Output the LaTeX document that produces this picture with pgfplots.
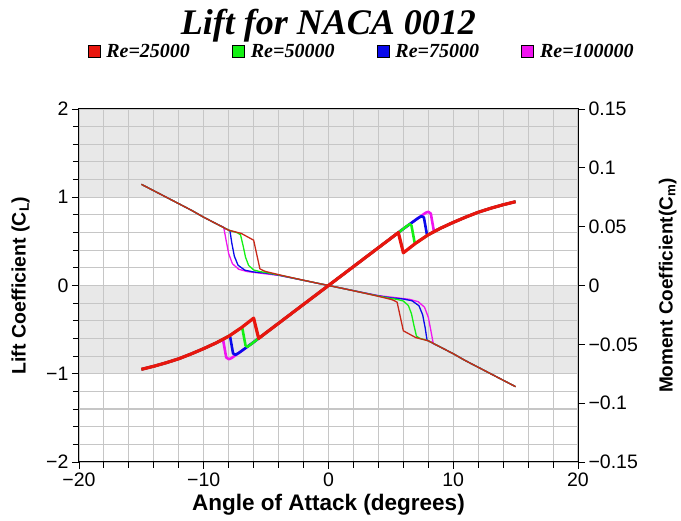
\documentclass[border=0pt]{standalone}
\usepackage{fontspec}
\setmainfont{Liberation Sans}
\newfontfamily\serifbi{Liberation Serif}
\usepackage{pgfplots}
\pgfplotsset{compat=1.18}
\definecolor{cRed}{RGB}{232,22,14}
\definecolor{cGreen}{RGB}{20,240,20}
\definecolor{cBlue}{RGB}{10,10,235}
\definecolor{cMag}{RGB}{240,20,240}
\definecolor{cMred}{RGB}{200,40,25}
\definecolor{band}{RGB}{232,232,232}
\definecolor{gridc}{RGB}{198,198,198}
\pgfplotsset{
  base/.style={width=499pt, height=353pt, scale only axis, xmin=-20, xmax=20,
    clip=true},
}
\begin{document}
\begin{tikzpicture}
\path[use as bounding box] (-79pt,-59pt) rectangle (602pt,462pt);
% ---------- background lift axis: grid, bands, left and bottom ticks
\begin{axis}[base, ymin=-2, ymax=2,
  axis on top,
  xtick={-20,-10,0,10,20}, xticklabels={−20,−10,0,10,20},
  minor xtick={-18,-16,-14,-12,-8,-6,-4,-2,2,4,6,8,12,14,16,18},
  ytick={-2,-1,0,1,2}, yticklabels={−2,−1,0,1,2},
  minor ytick={-1.8,-1.6,-1.4,-1.2,-0.8,-0.6,-0.4,-0.2,0.2,0.4,0.6,0.8,1.2,1.4,1.6,1.8},
  xtick pos=bottom, ytick pos=left,
  tick align=outside,
  major tick length=7pt, minor tick length=6pt,
  tick style={black, line width=0.9pt},
  grid=both,
  major grid style={gridc, line width=1.1pt},
  minor grid style={gridc, line width=1.1pt},
  axis line style={black, line width=1pt},
  ticklabel style={font=\fontsize{19.5}{19.5}\selectfont},
  xlabel={Angle of Attack (degrees)},
  ylabel={Lift Coefficient (C\textsubscript{L})},
  xlabel style={at={(axis description cs:0.5,-0.122)}, anchor=center,
    font=\bfseries\fontsize{22.5}{22.5}\selectfont},
  ylabel style={at={(axis description cs:-0.117,0.5)}, anchor=center,
    font=\bfseries\fontsize{19.5}{19.5}\selectfont},
  title={Lift for NACA 0012},
  title style={at={(axis description cs:0.5,1.195)}, anchor=base,
    inner sep=0pt, text depth=0pt,
    font=\serifbi\bfseries\itshape\fontsize{36}{36}\selectfont},
]
\addplot[fill=band, draw=none] coordinates {(-20,1) (20,1) (20,2) (-20,2)} -- cycle;
\addplot[fill=band, draw=none] coordinates {(-20,-1) (20,-1) (20,0) (-20,0)} -- cycle;
\end{axis}
% ---------- moment axis (right)
\begin{axis}[base, ymin=-0.15, ymax=0.15,
  axis x line=none, axis y line*=right,
  ytick={-0.15,-0.1,-0.05,0,0.05,0.1,0.15},
  yticklabels={−0.15,−0.1,−0.05,0,0.05,0.1,0.15},
  tick align=outside, major tick length=7pt,
  tick style={black, line width=0.9pt},
  axis line style={black, line width=1pt},
  ticklabel style={font=\fontsize{19.5}{19.5}\selectfont},
  ylabel={Moment Coefficient(C\textsubscript{m})},
  ylabel style={at={(axis description cs:1.18,0.5)}, anchor=center,
    font=\bfseries\fontsize{19}{19}\selectfont},
]
% Re = 100000
\addplot[cMag, line width=1.3pt] coordinates {
(-15,0.086) (-14,0.0805) (-13,0.075) (-12,0.0695) (-11,0.064) (-10,0.058) (-9,0.0525)
(-8.4,0.0495) (-8.2,0.038) (-8.0,0.027) (-7.7,0.0185) (-7.2,0.0138) (-6.5,0.0118)
(-5.5,0.0105) (-4,0.0086) (-3,0.0065) (-2,0.0043) (-1,0.0021) (0,0)
(1,-0.0021) (2,-0.0043) (3,-0.0065) (4,-0.0086) (5.5,-0.0105) (6.5,-0.0118)
(7.2,-0.0138) (7.7,-0.0185) (8.0,-0.027) (8.2,-0.038) (8.4,-0.0495)
(9,-0.0525) (10,-0.058) (11,-0.064) (12,-0.0695) (13,-0.075) (14,-0.0805) (15,-0.086)};
% Re = 75000
\addplot[cBlue, line width=1.3pt] coordinates {
(-15,0.086) (-14,0.0805) (-13,0.075) (-12,0.0695) (-11,0.064) (-10,0.058) (-9,0.0525)
(-8,0.047) (-7.9,0.0465) (-7.75,0.036) (-7.55,0.025) (-7.25,0.0172) (-6.7,0.0130)
(-6,0.0115) (-5,0.0105) (-4,0.0088) (-3,0.0066) (-2,0.0044) (-1,0.0022) (0,0)
(1,-0.0022) (2,-0.0044) (3,-0.0066) (4,-0.0088) (5,-0.0105) (6,-0.0115)
(6.7,-0.0130) (7.25,-0.0172) (7.55,-0.025) (7.75,-0.036) (7.9,-0.0465) (8,-0.047)
(9,-0.0525) (10,-0.058) (11,-0.064) (12,-0.0695) (13,-0.075) (14,-0.0805) (15,-0.086)};
% Re = 50000
\addplot[cGreen, line width=1.3pt] coordinates {
(-15,0.086) (-14,0.0805) (-13,0.075) (-12,0.0695) (-11,0.064) (-10,0.058) (-9,0.0525)
(-8,0.047) (-7.3,0.0448) (-7.05,0.043) (-6.85,0.034) (-6.65,0.024) (-6.4,0.0170)
(-6,0.0132) (-5.5,0.0118) (-5,0.0110) (-4,0.0090) (-3,0.0067) (-2,0.0044) (-1,0.0022) (0,0)
(1,-0.0022) (2,-0.0044) (3,-0.0067) (4,-0.0090) (5,-0.0110) (5.5,-0.0118) (6,-0.0132)
(6.4,-0.0170) (6.65,-0.024) (6.85,-0.034) (7.05,-0.043) (7.3,-0.0448) (8,-0.047)
(9,-0.0525) (10,-0.058) (11,-0.064) (12,-0.0695) (13,-0.075) (14,-0.0805) (15,-0.086)};
% Re = 25000
\addplot[cMred, line width=1.3pt] coordinates {
(-15,0.086) (-14,0.0805) (-13,0.075) (-12,0.0695) (-11,0.064) (-10,0.058) (-9,0.0525)
(-8,0.047) (-7,0.0443) (-6,0.0385) (-5.5,0.0142) (-5.2,0.0125) (-5,0.0118)
(-4,0.0092) (-3,0.0068) (-2,0.0045) (-1,0.0022) (0,0)
(1,-0.0022) (2,-0.0045) (3,-0.0068) (4,-0.0092) (5,-0.0118) (5.2,-0.0125) (5.5,-0.0142)
(6,-0.0385) (7,-0.0443) (8,-0.047)
(9,-0.0525) (10,-0.058) (11,-0.064) (12,-0.0695) (13,-0.075) (14,-0.0805) (15,-0.086)};
\end{axis}
% ---------- lift curves on top
\begin{axis}[base, ymin=-2, ymax=2, hide axis,
  legend columns=4,
  legend style={at={(axis description cs:0.011,1.163)}, anchor=west,
    draw=none, fill=none,
    font=\serifbi\bfseries\itshape\fontsize{20}{20}\selectfont,
    nodes={text width=124pt, align=left, inner ysep=0pt, text height=13pt, text depth=1pt},
    /tikz/every even column/.append style={column sep=0pt}},
  legend image code/.code={\filldraw[#1, draw=black, line width=0.8pt] (0pt,-6pt) rectangle (12pt,6pt); \path (16pt,0pt);},
]
\addlegendimage{fill=cRed}
\addlegendentry{Re=25000}
\addlegendimage{fill=cGreen}
\addlegendentry{Re=50000}
\addlegendimage{fill=cBlue}
\addlegendentry{Re=75000}
\addlegendimage{fill=cMag}
\addlegendentry{Re=100000}
% Re = 100000
\addplot[cMag, line width=2.6pt, line join=round, forget plot] coordinates {
(-15,-0.95) (-14,-0.915) (-13,-0.875) (-12,-0.83) (-11,-0.775) (-10,-0.715) (-9,-0.65)
(-8.45,-0.615) (-8.2,-0.815) (-8.0,-0.835) (-7.8,-0.825) (-7.5,-0.795) (-7,-0.745)
(-6,-0.642) (-5,-0.535) (-4,-0.428) (-3,-0.321) (-2,-0.214) (-1,-0.107) (0,0)
(1,0.107) (2,0.214) (3,0.321) (4,0.428) (5,0.535) (6,0.642) (7,0.745) (7.5,0.795)
(7.8,0.825) (8.0,0.835) (8.2,0.815) (8.45,0.615) (9,0.65)
(10,0.715) (11,0.775) (12,0.83) (13,0.875) (14,0.915) (15,0.95)};
% Re = 75000
\addplot[cBlue, line width=2.6pt, line join=round, forget plot] coordinates {
(-15,-0.95) (-14,-0.915) (-13,-0.875) (-12,-0.83) (-11,-0.775) (-10,-0.715) (-9,-0.65)
(-8,-0.575) (-7.9,-0.57) (-7.65,-0.77) (-7.45,-0.785) (-7.2,-0.765) (-7,-0.745)
(-6,-0.642) (-5,-0.535) (-4,-0.428) (-3,-0.321) (-2,-0.214) (-1,-0.107) (0,0)
(1,0.107) (2,0.214) (3,0.321) (4,0.428) (5,0.535) (6,0.642) (7,0.745) (7.2,0.765)
(7.45,0.785) (7.65,0.77) (7.9,0.57) (8,0.575) (9,0.65)
(10,0.715) (11,0.775) (12,0.83) (13,0.875) (14,0.915) (15,0.95)};
% Re = 50000
\addplot[cGreen, line width=2.6pt, line join=round, forget plot] coordinates {
(-15,-0.95) (-14,-0.915) (-13,-0.875) (-12,-0.83) (-11,-0.775) (-10,-0.715) (-9,-0.65)
(-8,-0.575) (-7,-0.48) (-6.9,-0.49) (-6.65,-0.68) (-6.5,-0.695) (-6.2,-0.665)
(-6,-0.642) (-5,-0.535) (-4,-0.428) (-3,-0.321) (-2,-0.214) (-1,-0.107) (0,0)
(1,0.107) (2,0.214) (3,0.321) (4,0.428) (5,0.535) (6,0.642) (6.2,0.665)
(6.5,0.695) (6.65,0.68) (6.9,0.49) (7,0.48) (8,0.575) (9,0.65)
(10,0.715) (11,0.775) (12,0.83) (13,0.875) (14,0.915) (15,0.95)};
% Re = 25000
\addplot[cRed, line width=3.2pt, line join=round, forget plot] coordinates {
(-15,-0.95) (-14,-0.915) (-13,-0.875) (-12,-0.83) (-11,-0.775) (-10,-0.715) (-9,-0.65)
(-8,-0.575) (-7,-0.48) (-6,-0.37) (-5.6,-0.60) (-5,-0.535) (-4,-0.428) (-3,-0.321)
(-2,-0.214) (-1,-0.107) (0,0) (1,0.107) (2,0.214) (3,0.321) (4,0.428) (5,0.535)
(5.6,0.60) (6,0.37) (7,0.48) (8,0.575) (9,0.65) (10,0.715) (11,0.775) (12,0.83)
(13,0.875) (14,0.915) (15,0.95)};
\end{axis}
\end{tikzpicture}
\end{document}
